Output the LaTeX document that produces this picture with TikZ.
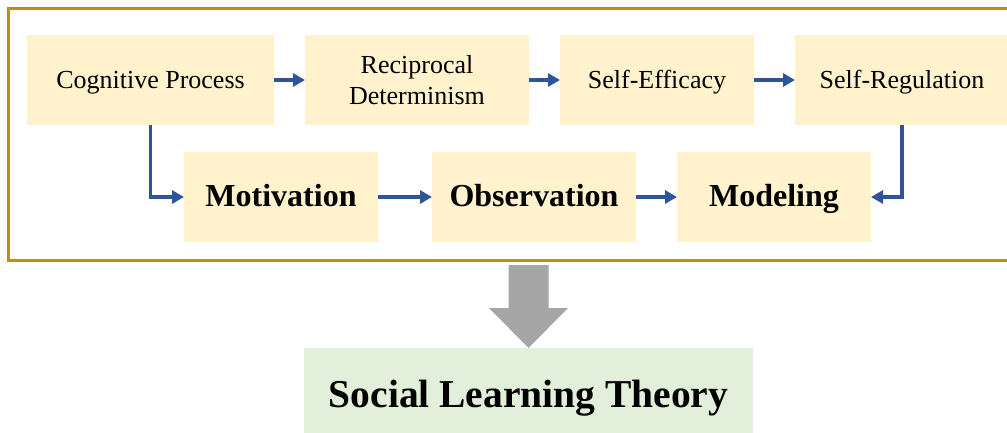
\documentclass[tikz,border=0pt]{standalone}
\usepackage{fontspec}
\setmainfont{Liberation Serif}
\usepackage{tikz}
\usetikzlibrary{shapes.geometric, arrows.meta, positioning}
\definecolor{boxyellow}{RGB}{255,242,204}
\definecolor{boxgreen}{RGB}{226,239,218}
\definecolor{linkblue}{RGB}{47,85,151}
\definecolor{framegold}{RGB}{191,144,0}
\definecolor{bigarrow}{RGB}{166,166,166}
\tikzstyle{factor} = [rectangle, minimum width=194pt, minimum height=90pt, inner sep=0pt, outer sep=0pt, align=center, fill=boxyellow, font=\fontsize{26}{31.5}\selectfont]
\tikzstyle{oneline} = [text height=24pt, text depth=6pt]
\tikzstyle{stage} = [factor, text height=28pt, text depth=8pt, font=\bfseries\fontsize{32}{38}\selectfont]
\tikzstyle{theory} = [rectangle, minimum width=449pt, minimum height=96pt, inner sep=0pt, outer sep=0pt, text height=34pt, text depth=12pt, fill=boxgreen, font=\bfseries\fontsize{39.5}{46}\selectfont]
\tikzstyle{arrow} = [line width=3.2pt, draw=linkblue, -{Triangle[length=12pt,width=13pt]}]

\begin{document}
\begin{tikzpicture}[x=1pt, y=-1pt]
\useasboundingbox (0,0) rectangle (1007,433);
% outer frame
\draw [framegold, line width=3pt] (8,9) rectangle (1014,260);
% upper row
\node (cog) [factor, oneline, minimum width=247pt] at (150.5,80) {Cognitive Process};
\node (recip) [factor, minimum width=224pt, right=31pt of cog] {\raisebox{-1.5pt}{\parbox{200pt}{\centering Reciprocal\\Determinism}}};
\node (eff) [factor, oneline, right=31pt of recip] {Self-Efficacy};
\node (reg) [factor, oneline, minimum width=214pt, right=41pt of eff] {Self-Regulation};
% lower row
\node (mot) [stage] at (281,197) {Motivation};
\node (obs) [stage, minimum width=204pt, right=54pt of mot] {Observation};
\node (mod) [stage, right=41pt of obs] {Modeling};
% result
\node (slt) [theory] at (528.5,396) {Social Learning Theory};
\draw [arrow] (cog) -- (recip);
\draw [arrow] (recip) -- (eff);
\draw [arrow] (eff) -- (reg);
\draw [arrow] (mot) -- (obs);
\draw [arrow] (obs) -- (mod);
\draw [arrow] (cog.south) |- (mot.west);
\draw [arrow] (reg.south) |- (mod.east);
% big grey arrow down to the theory box
\coordinate (tip) at (slt.north);
\fill [bigarrow] (tip) -- ++(-39.5,-40) -- ++(19.5,0) -- ++(0,-43) -- ++(40,0) -- ++(0,43) -- ++(19.5,0) -- cycle;
\end{tikzpicture}
\end{document}
